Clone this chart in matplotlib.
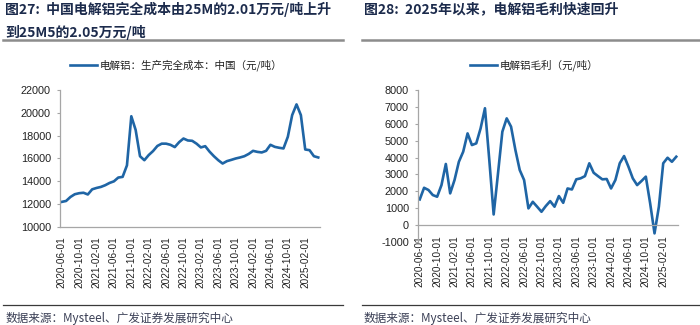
import matplotlib
matplotlib.use("Agg")
import matplotlib.pyplot as plt
from matplotlib.lines import Line2D

plt.rcParams['font.family'] = ['Liberation Sans', 'Noto Sans CJK SC', 'DejaVu Sans']

# monthly series, 2020-06 .. 2025-05
cost = [12200, 12280, 12630, 12870, 12960, 13000, 12850, 13300, 13420, 13510,
        13660, 13860, 14000, 14330, 14390, 15400, 19700, 18500, 16200, 15850,
        16300, 16650, 17100, 17300, 17300, 17200, 17000, 17430, 17750, 17580,
        17550, 17300, 16970, 17080, 16600, 16200, 15850, 15560, 15770, 15880,
        16000, 16090, 16200, 16400, 16670, 16580, 16530, 16670, 17200, 17020,
        16940, 16880, 17900, 19800, 20740, 19800, 16790, 16730, 16200, 16090]

margin = [1520, 2210, 2080, 1780, 1680, 2370, 3620, 1880, 2670, 3750,
          4350, 5430, 4740, 4840, 5730, 6920, 3850, 630, 3060, 5530,
          6320, 5830, 4450, 3260, 2670, 990, 1380, 1090, 790, 1130,
          1420, 1090, 1720, 1320, 2170, 2110, 2710, 2770, 2900, 3660,
          3100, 2900, 2710, 2730, 2170, 2670, 3660, 4090, 3460, 2770,
          2370, 2610, 2870, 1280, -490, 1090, 3660, 3990, 3750, 4050]

tick_labels = ['2020-06-01', '2020-10-01', '2021-02-01', '2021-06-01', '2021-10-01',
               '2022-02-01', '2022-06-01', '2022-10-01', '2023-02-01', '2023-06-01',
               '2023-10-01', '2024-02-01', '2024-06-01', '2024-10-01', '2025-02-01']

title_left_1 = '图27:  中国电解铝完全成本由25M的2.01万元/吨上升'
title_left_2 = '到25M5的2.05万元/吨'
title_right = '图28:  2025年以来，电解铝毛利快速回升'
legend_left = '电解铝：生产完全成本：中国（元/吨）'
legend_right = '电解铝毛利（元/吨）'
source = '数据来源：Mysteel、广发证券发展研究中心'

line_color = '#1f65a5'
axis_color = '#a6a6a6'
title_color = '#1c2b4c'
text_color = '#222222'
cjk = ['Noto Sans CJK SC', 'DejaVu Sans']
W, H = 700, 325

fig = plt.figure(figsize=(7, 3.25), dpi=100)


def fx(px):
    return px / W


def fy(py):
    return 1 - py / H


def style_axes(ax, values, ylim, yticks, cross_zero=False):
    for s in ['top', 'right']:
        ax.spines[s].set_visible(False)
    if cross_zero:
        # category axis sits on the zero line
        ax.spines['bottom'].set_position(('data', 0))
    for s in ['left', 'bottom']:
        ax.spines[s].set_color(axis_color)
        ax.spines[s].set_linewidth(0.9)
    x = list(range(len(values)))
    ax.plot(x, values, color=line_color, lw=1.9, solid_joinstyle='round')
    ax.set_xlim(-0.4, len(values) - 0.6)
    ax.set_ylim(*ylim)
    ax.set_yticks(yticks)
    ax.set_yticklabels([str(v) for v in yticks], fontsize=7.8, color=text_color)
    ax.set_xticks(x[::4])
    ax.set_xticklabels(tick_labels, rotation=90, fontsize=7.2, color=text_color)
    ax.tick_params(axis='x', length=0, pad=7)
    ax.tick_params(axis='y', length=2.5, width=0.8, color=axis_color, pad=4)
    ax.patch.set_alpha(0)


# left panel: full cost
ax1 = fig.add_axes([fx(60), fy(227), fx(320 - 60), fy(90) - fy(227)])
style_axes(ax1, cost, (10000, 22000), list(range(10000, 22001, 2000)))

# right panel: margin
ax2 = fig.add_axes([fx(418), fy(242), fx(678 - 418), fy(90) - fy(242)])
style_axes(ax2, margin, (-1000, 8000), list(range(-1000, 8001, 1000)),
           cross_zero=True)

# legends
for x0, y0, label in [(70, 65, legend_left), (470, 65, legend_right)]:
    fig.add_artist(Line2D([fx(x0), fx(x0 + 27)], [fy(y0), fy(y0)],
                          color=line_color, lw=1.9))
    fig.text(fx(x0 + 30), fy(y0), label, fontsize=7.6, family=cjk,
             color=text_color, va='center', ha='left')

# titles
fig.text(fx(5), fy(9), title_left_1, fontsize=10, weight='bold', family=cjk,
         color=title_color, va='center', ha='left')
fig.text(fx(5), fy(32), title_left_2, fontsize=10, weight='bold', family=cjk,
         color=title_color, va='center', ha='left')
fig.text(fx(364), fy(9), title_right, fontsize=10, weight='bold', family=cjk,
         color=title_color, va='center', ha='left')

# rules above and below each panel
for x0, x1 in [(3, 343), (362, 700)]:
    fig.add_artist(Line2D([fx(x0), fx(x1)], [fy(40), fy(40)],
                          color='#8c8c8c', lw=1.8))
    fig.add_artist(Line2D([fx(x0), fx(x1)], [fy(304.5), fy(304.5)],
                          color='#3a3a3a', lw=0.9))

# source notes
fig.text(fx(5), fy(318), source, fontsize=8.4, family=cjk,
         color='#3a3f55', va='center', ha='left')
fig.text(fx(363), fy(318), source, fontsize=8.4, family=cjk,
         color='#3a3f55', va='center', ha='left')

fig.savefig('out.png', dpi=100, facecolor='white')
